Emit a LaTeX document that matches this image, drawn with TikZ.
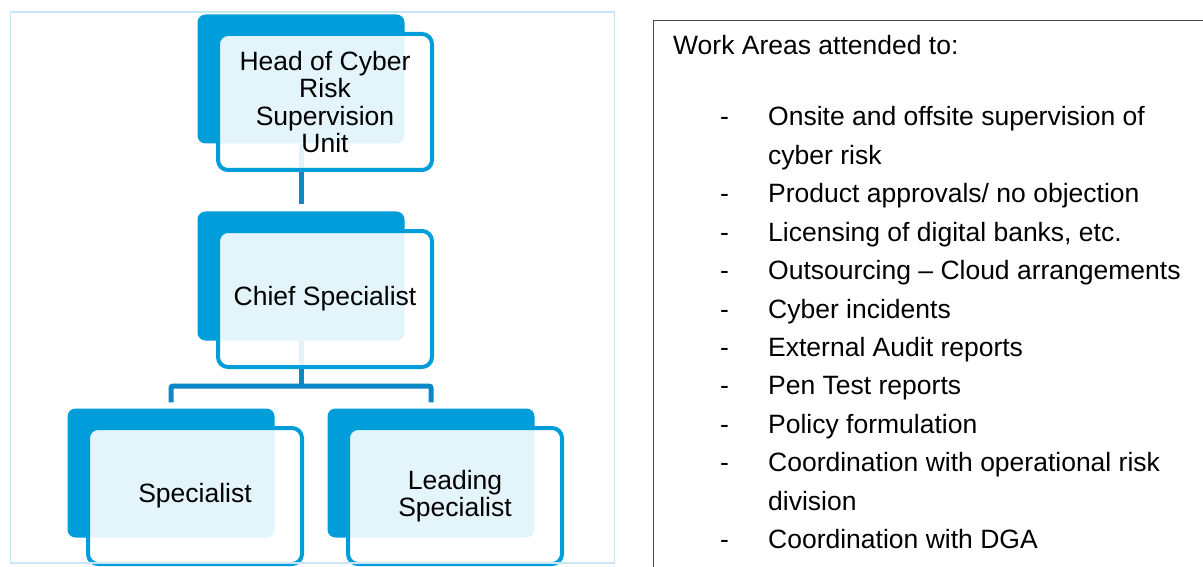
\documentclass[tikz,border=0pt]{standalone}
\usepackage{fontspec}
\setmainfont{Liberation Sans}
\definecolor{cbblue}{RGB}{0,157,219}
\definecolor{cbline}{RGB}{12,137,197}
\definecolor{cbframe}{RGB}{200,230,246}
\definecolor{cbgray}{RGB}{70,70,70}

\begin{document}
\begin{tikzpicture}[x=1pt, y=-1pt,
  back/.style={fill=cbblue, rounded corners=8pt, minimum width=207pt, minimum height=129pt, inner sep=0pt},
  front/.style={draw=cbblue, line width=4pt, fill=white, fill opacity=0.89, text opacity=1, rounded corners=10pt, minimum width=214pt, minimum height=136pt, inner sep=0pt, align=center, font=\fontsize{26.5}{27.3}\selectfont},
  link/.style={draw=cbline, line width=5pt},
  item/.style={anchor=base west, inner sep=0pt, font=\fontsize{26.5}{38.4}\selectfont}
]
\useasboundingbox (0,0) rectangle (1203,567);

\node[back] (head-bg) at (301,79) {};
\node[back] (chief-bg) at (301,276) {};
\node[back] (spec-bg) at (171,473) {};
\node[back] (lead-bg) at (431,473) {};

\coordinate (fork) at (301,386);
\draw[link, shorten >=7pt] (head-bg) -- (chief-bg);
\draw[link] (chief-bg) -- (fork);
\draw[link, rounded corners=2pt, shorten >=6pt] (fork) -| (spec-bg);
\draw[link, rounded corners=2pt, shorten >=6pt] (fork) -| (lead-bg);

\node[front] (head) at (325,102) {Head of Cyber\\Risk\\Supervision\\Unit};
\node[front] (chief) at (325,299) {Chief Specialist};
\node[front] (spec) at (195,496) {Specialist};
\node[front] (lead) at (455,496) {Leading\\Specialist};

\draw[cbframe, line width=1.5pt] (10.5,12) rectangle (614.5,563);

\node[draw=cbgray, line width=1.5pt, anchor=north west, minimum width=600pt, minimum height=600pt, inner sep=0pt] (areas) at (652.5,20) {};
\node[item] (title) at (673,55) {Work Areas attended to:};
\foreach \txt [count=\i] in {Onsite and offsite supervision of, cyber risk, Product approvals/ no objection, {Licensing of digital banks, etc.}, Outsourcing -- Cloud arrangements, Cyber incidents, External Audit reports, Pen Test reports, Policy formulation, Coordination with operational risk, division, Coordination with DGA}
  \node[item] (area\i) at (768,{126+38.4*(\i-1)}) {\txt};
\foreach \i in {1,3,4,5,6,7,8,9,10,12}
  \node[item] (dash\i) at (720,{126+38.4*(\i-1)}) {-};
\end{tikzpicture}
\end{document}
